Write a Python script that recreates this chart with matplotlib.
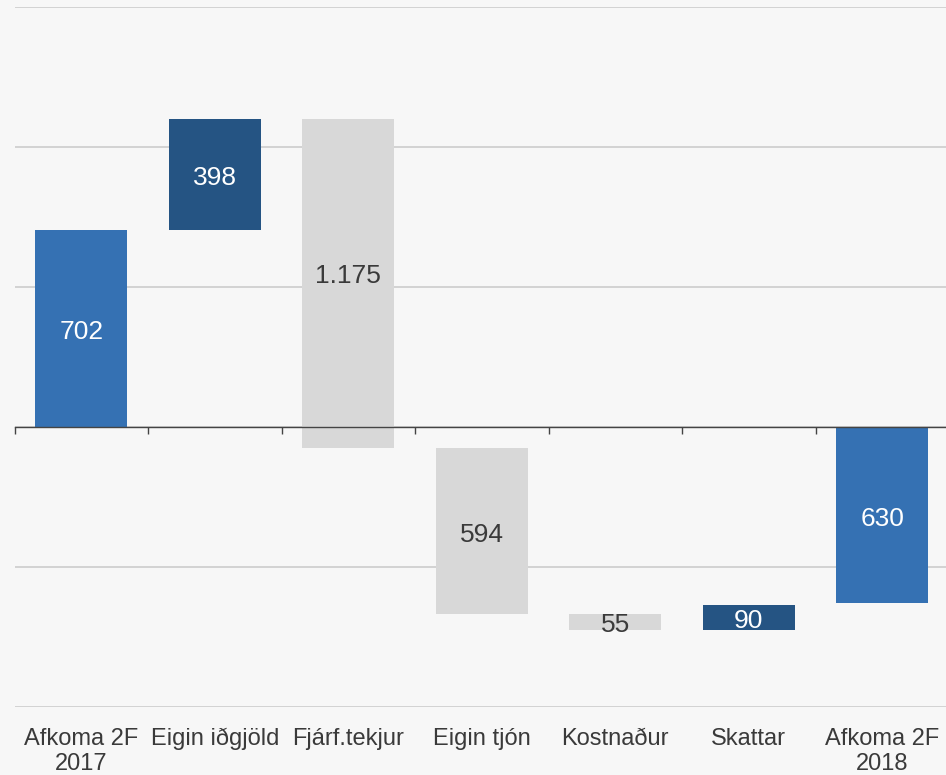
import matplotlib
matplotlib.use('Agg')
import matplotlib.pyplot as plt
import numpy as np

plt.rcParams['font.family'] = ['Liberation Sans', 'DejaVu Sans']

categories = ['Afkoma 2F\n2017', 'Eigin iðgjöld', 'Fjárf.tekjur', 'Eigin tjón',
              'Kostnaður', 'Skattar', 'Afkoma 2F\n2018']
values = [702, 398, -1175, -594, -55, 90, -630]
kinds = ['total', 'up', 'down', 'down', 'down', 'up', 'total']
labels = ['702', '398', '1.175', '594', '55', '90', '630']

colors = {'total': '#3571b3', 'up': '#255483', 'down': '#d8d8d8'}
text_colors = {'total': 'white', 'up': 'white', 'down': '#3a3a3a'}

# waterfall bottoms
bottoms = []
running = 0
for v, k in zip(values, kinds):
    if k == 'total':
        bottoms.append(0)
        running = v
    else:
        bottoms.append(running)
        running += v

fig = plt.figure(figsize=(9.46, 7.75), dpi=100, facecolor='#f7f7f7')
ax = fig.add_axes([14.5/946, 68/775, 934.5/946, 700/775])
ax.set_facecolor('#f7f7f7')

x = np.arange(len(categories))
ax.set_xlim(-0.5, len(categories) - 0.5)
ax.set_ylim(-1000, 1500)
ax.set_yticks(np.arange(-1000, 1501, 500))
ax.yaxis.grid(True, color='#cccccc', linewidth=1.2)
ax.set_axisbelow(True)
ax.tick_params(axis='y', length=0, labelleft=False)

for s in ['top', 'right', 'left']:
    ax.spines[s].set_visible(False)
ax.spines['bottom'].set_position(('data', 0))
ax.spines['bottom'].set_color('#444444')
ax.spines['bottom'].set_linewidth(1.0)
ax.spines['bottom'].set_zorder(5)
ax.set_xticks(np.arange(-0.5, len(categories), 1.0))
ax.tick_params(axis='x', length=5, width=1.0, color='#444444', labelbottom=False)

bars = ax.bar(x, values, bottom=bottoms, width=0.69,
              color=[colors[k] for k in kinds], zorder=3)

for xi, v, b, k, lab in zip(x, values, bottoms, kinds, labels):
    lo, hi = sorted((b, b + v))
    # a bar crossing zero gets its label on the part above the axis
    if lo < 0 < hi:
        lo = 0
    ax.annotate(lab, (xi, (lo + hi) / 2), xytext=(0, -2.5), textcoords='offset points',
                ha='center', va='center', fontsize=19, color=text_colors[k], zorder=6)

for xi, cat in zip(x, categories):
    ax.text(xi, -0.03, cat, transform=ax.get_xaxis_transform(), ha='center',
            va='top', fontsize=17, color='#3a3a3a', linespacing=1.15)

fig.savefig('out.png', dpi=100, facecolor=fig.get_facecolor())
